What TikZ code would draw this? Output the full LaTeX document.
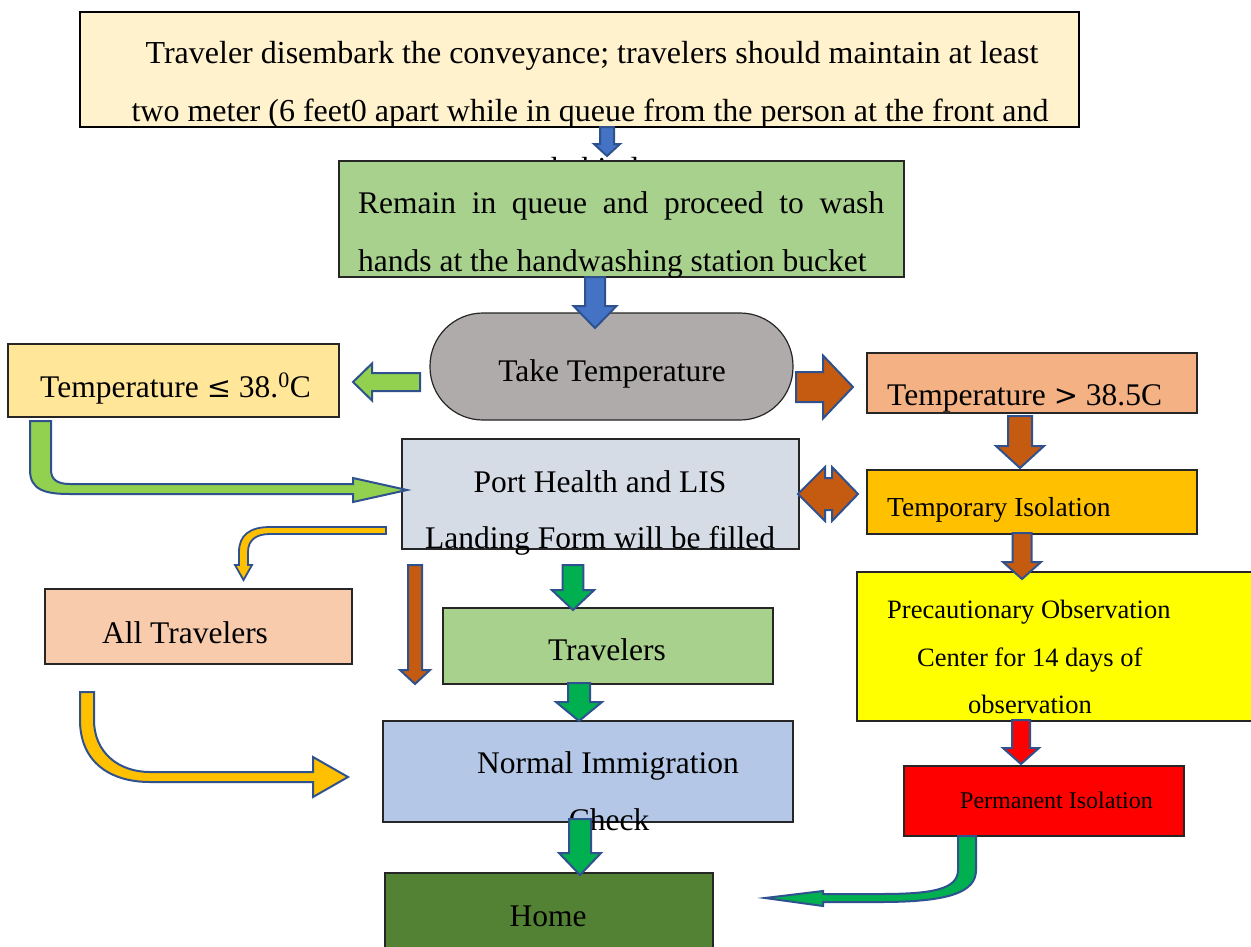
\documentclass[tikz,border=0pt]{standalone}
\usepackage{fontspec}
\setmainfont{Liberation Serif}
\newfontfamily\symfam{DejaVu Serif}
\definecolor{cTop}{HTML}{FFF2CC}
\definecolor{cGreenBox}{HTML}{A9D18E}
\definecolor{cTake}{HTML}{AFABAB}
\definecolor{cTle}{HTML}{FFE699}
\definecolor{cTgt}{HTML}{F4B183}
\definecolor{cTiso}{HTML}{FFC000}
\definecolor{cPrec}{HTML}{FFFF00}
\definecolor{cPerm}{HTML}{FF0000}
\definecolor{cPh}{HTML}{D6DCE5}
\definecolor{cAll}{HTML}{F8CBAD}
\definecolor{cNorm}{HTML}{B4C7E7}
\definecolor{cHome}{HTML}{548235}
\definecolor{cBlue}{HTML}{4472C4}
\definecolor{cLime}{HTML}{92D050}
\definecolor{cOrange}{HTML}{C55A11}
\definecolor{cGreen}{HTML}{00B050}
\definecolor{cYellow}{HTML}{FFC000}
\definecolor{cRed}{HTML}{FF0000}
\definecolor{cLine}{HTML}{2F528F}
\tikzset{
  box/.style={draw=black!85, line width=1.2pt, inner sep=0pt},
  blk/.style={draw=cLine, line width=2pt, line join=miter},
  txt/.style={inner sep=0pt, font=\fontsize{31.5}{38}\selectfont},
}
\newcommand\blkdown[7]{\draw[blk, fill=#7] ({#1-#4},#2) -- ({#1-#4},#6) -- ({#1-#5},#6) -- (#1,#3) -- ({#1+#5},#6) -- ({#1+#4},#6) -- ({#1+#4},#2) -- cycle;}
\begin{document}
\begin{tikzpicture}[x=1pt,y=-1pt]
\clip (0,0) rectangle (1251,946);
\fill[white] (0,0) rectangle (1251,946);

% top box
\node[box, line width=2.2pt, draw=black, fill=cTop, minimum width=999, minimum height=115] (top) at (579.5,69.5) {};
\node[txt, anchor=base, font=\fontsize{32}{38}\selectfont] (top1) at (592,63) {Traveler disembark the conveyance; travelers should maintain at least};
\node[txt, anchor=base, font=\fontsize{32}{38}\selectfont] (top2) at (590,121) {two meter (6 feet0 apart while in queue from the person at the front and};
\node[txt, anchor=base, font=\fontsize{32}{38}\selectfont] (top3) at (595,179) {behind};

% green box
\node[box, fill=cGreenBox, minimum width=565, minimum height=116] (wash) at (621.5,219) {};
\node[txt, anchor=base west] (wash1) at (358,213) {\makebox[526pt][s]{Remain in queue and proceed to wash}};
\node[txt, anchor=base west] (wash2) at (358,271) {hands at the handwashing station bucket};

% take temperature
\node[box, fill=cTake, rounded corners=53pt, minimum width=363, minimum height=107] (take) at (611.5,366.5) {};
\node[txt, anchor=base] (taket) at (612,381) {Take Temperature};

% temperature <=
\node[box, fill=cTle, minimum width=331, minimum height=73] (tle) at (173.5,380.5) {};
\node[txt, anchor=base west] (tlet) at (40,397) {Temperature {\symfam\fontsize{29}{34}\selectfont ≤} 38.\textsuperscript{0}C};

% temperature >
\node[box, fill=cTgt, minimum width=330, minimum height=60] (tgt) at (1032,383) {};
\node[txt, anchor=base west] (tgtt) at (887,405) {Temperature {\symfam\fontsize{29}{34}\selectfont >} 38.5C};

% temporary isolation
\node[box, fill=cTiso, minimum width=330, minimum height=64] (tiso) at (1032,502) {};
\node[txt, anchor=base west, font=\fontsize{27.5}{33}\selectfont] (tisot) at (887,516) {Temporary Isolation};

% precautionary observation
\node[box, fill=cPrec, minimum width=405, minimum height=149] (prec) at (1059.5,646.5) {};
\node[txt, anchor=base west, font=\fontsize{26.5}{32}\selectfont] (prec1) at (887,618) {Precautionary Observation};
\node[txt, anchor=base west, font=\fontsize{26.5}{32}\selectfont] (prec2) at (917,666) {Center for 14 days of};
\node[txt, anchor=base west, font=\fontsize{26.5}{32}\selectfont] (prec3) at (968,713) {observation};

% permanent isolation
\node[box, fill=cPerm, minimum width=280, minimum height=70] (perm) at (1044,801) {};
\node[txt, anchor=base west, font=\fontsize{24}{29}\selectfont] (permt) at (960,808) {Permanent Isolation};

% port health
\node[box, fill=cPh, minimum width=397, minimum height=110] (ph) at (600.5,494) {};
\node[txt, anchor=base] (ph1) at (600,492) {Port Health and LIS};
\node[txt, anchor=base] (ph2) at (600,548) {Landing Form will be filled};

% all travelers
\node[box, fill=cAll, minimum width=307, minimum height=75] (allt) at (198.5,626.5) {};
\node[txt, anchor=base] (alltt) at (185,643) {All Travelers};

% travelers
\node[box, fill=cGreenBox, minimum width=330, minimum height=76] (trav) at (608,646) {};
\node[txt, anchor=base] (travt) at (607,660) {Travelers};

% normal immigration
\node[box, fill=cNorm, minimum width=410, minimum height=101] (norm) at (588,771.5) {};
\node[txt, anchor=base west] (norm1) at (477,773) {Normal Immigration};
\node[txt, anchor=base] (norm2) at (609,830) {Check};

% home
\node[box, fill=cHome, minimum width=328, minimum height=87] (home) at (549,916.5) {};
\node[txt, anchor=base] (homet) at (548,926) {Home};

% ---- block arrows ----
% top -> wash
\blkdown{607}{127}{156}{7}{13}{144}{cBlue}
% wash -> take
\blkdown{595}{277}{328}{10}{21.5}{306}{cBlue}
% take -> tle
\draw[blk, fill=cLime] (420,373) -- (372,373) -- (372,363.5) -- (353,382) -- (372,400.5) -- (372,391) -- (420,391) -- cycle;
% take -> tgt
\draw[blk, fill=cOrange] (796,372) -- (823,372) -- (823,355.5) -- (853,387) -- (823,418.5) -- (823,402) -- (796,402) -- cycle;
% tgt -> tiso
\blkdown{1020}{416}{468}{12}{24}{446}{cOrange}
% ph <-> tiso
\draw[blk, fill=cOrange] (798,494) -- (825,467) -- (825,478) -- (832,478) -- (832,467) -- (858,494) -- (832,521) -- (832,510) -- (825,510) -- (825,521) -- cycle;
% tiso -> prec
\blkdown{1022}{533}{579}{9.5}{19}{562}{cOrange}
% prec -> perm
\blkdown{1021}{720}{764}{9}{18}{748}{cRed}
% perm -> home (curved)
\draw[blk, fill=cGreen] (958,836) -- (958,870) .. controls (958,890) and (930,894) .. (880,894) -- (823,894) -- (823,891) -- (765,898) -- (823,906) -- (823,902) -- (880,902) .. controls (950,902) and (976,892) .. (976,870) -- (976,836) -- cycle;
% tle -> ph (bent)
\draw[blk, fill=cLime] (30,421) -- (30,470) .. controls (30,490) and (45,494) .. (70,494) -- (353,494) -- (353,502) -- (407,490) -- (353,478) -- (353,484) -- (70,484) .. controls (58,484) and (51,480) .. (51,470) -- (51,421) -- cycle;
% ph -> allt (bent)
\draw[blk, line width=1.8pt, fill=cYellow] (386,527) -- (270,527) .. controls (250,527) and (239,535) .. (239,552) -- (239,565) -- (235,565) -- (243.5,580) -- (252,565) -- (248,565) -- (248,552) .. controls (248,540) and (256,534) .. (270,534) -- (386,534) -- cycle;
% ph -> norm (thin orange)
\blkdown{415}{565}{684}{7}{15}{670}{cOrange}
% ph -> trav
\blkdown{573}{565}{610}{10.3}{21.2}{590}{cGreen}
% trav -> norm
\blkdown{579}{683}{721}{11}{23}{702}{cGreen}
% allt -> norm (curved)
\draw[blk, fill=cYellow] (80,692) -- (80,720) .. controls (80,762) and (110,782) .. (150,782) -- (313,782) -- (313,797) -- (348,777) -- (313,757) -- (313,772) -- (150,772) .. controls (118,772) and (94,752) .. (94,720) -- (94,692) -- cycle;
% norm -> home
\blkdown{580}{819}{875}{11}{21}{853}{cGreen}
\end{tikzpicture}
\end{document}
